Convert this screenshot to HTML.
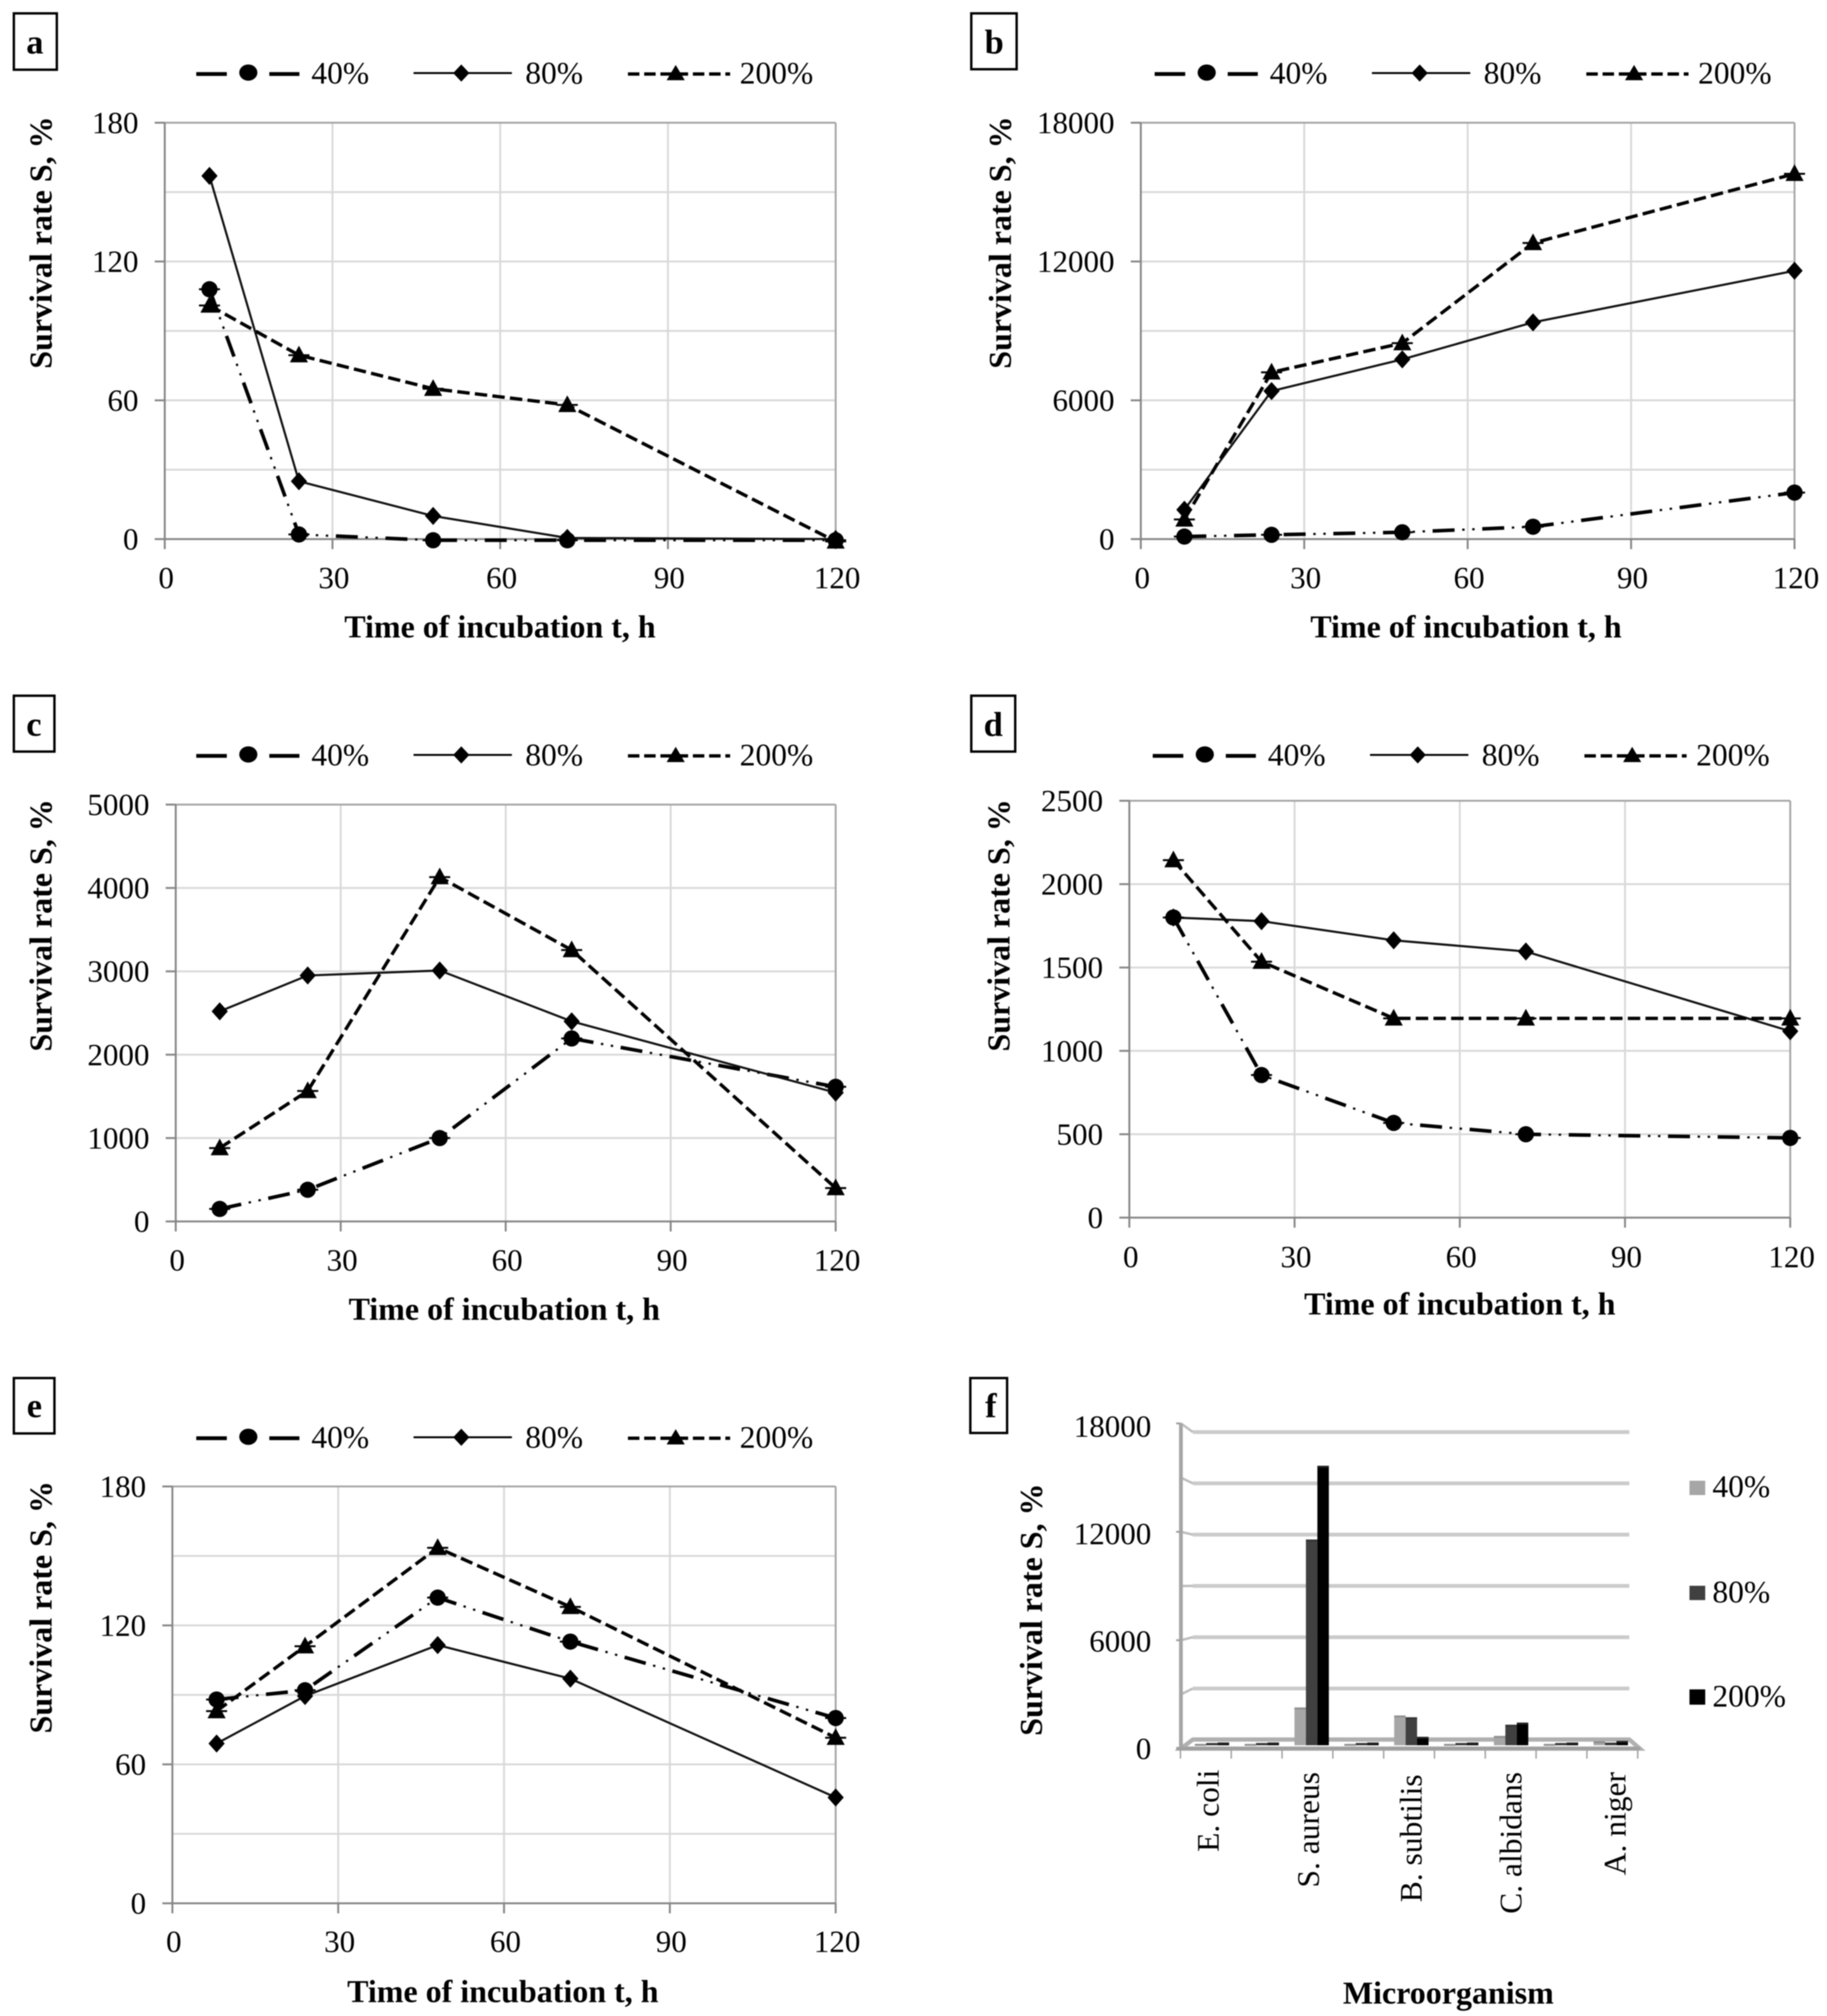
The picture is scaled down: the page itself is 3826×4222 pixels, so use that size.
<!DOCTYPE html>
<html lang="en">
<head>
<meta charset="utf-8">
<title>Survival rate charts</title>
<style>
html,body{margin:0;padding:0;background:#fff;}
svg{display:block;filter:blur(1px);}
text{font-family:"Liberation Serif",serif;fill:#000;}
.tick{font-size:65px;}
.leg{font-size:66px;}
.title{font-size:67px;font-weight:bold;}
.letter{font-size:72px;font-weight:bold;text-anchor:middle;}
.mid{text-anchor:middle;}
.cat{font-size:66px;text-anchor:end;}
.box{fill:none;stroke:#000;stroke-width:5;}
.l40{stroke:#000;stroke-width:8;fill:none;}
.l80{stroke:#000;stroke-width:4;fill:none;}
.l200{stroke:#000;stroke-width:7;fill:none;stroke-dasharray:24 10;}
</style>
</head>
<body>
<svg id="figure" xmlns="http://www.w3.org/2000/svg" width="3826" height="4222" viewBox="0 0 3826 4222">
<rect x="0" y="0" width="3826" height="4222" fill="#fff"/>

<!-- Panel a -->
<g>
  <rect class="box" x="29" y="28" width="90" height="118"/>
  <text class="letter" x="73" y="112">a</text>
  <text class="title mid" x="1047" y="1335">Time of incubation t, h</text>
  <text class="title mid" transform="translate(108,508) rotate(-90)">Survival rate S, %</text>
  <g id="legend-a">
    <g><line class="l40" x1="411" y1="155" x2="475" y2="155"/><line class="l40" x1="564" y1="155" x2="627" y2="155"/><ellipse cx="520" cy="152" rx="19" ry="17"/><text class="leg" x="652" y="175">40%</text></g>
    <g><line class="l80" x1="866" y1="153" x2="1072" y2="153"/><path d="M966 135L983 153L966 171L949 153Z"/><text class="leg" x="1100" y="175">80%</text></g>
    <g><line class="l200" x1="1315" y1="155" x2="1529" y2="155"/><path d="M1415 136L1434 168L1396 168Z"/><text class="leg" x="1549" y="175">200%</text></g>
  </g>
</g>

<!-- Panel b -->
<g>
  <rect class="box" x="2034" y="28" width="95" height="117"/>
  <text class="letter" x="2082" y="112">b</text>
  <text class="title mid" x="3070" y="1335">Time of incubation t, h</text>
  <text class="title mid" transform="translate(2117,508) rotate(-90)">Survival rate S, %</text>
  <g transform="translate(2007,0)">
    <g><line class="l40" x1="411" y1="155" x2="475" y2="155"/><line class="l40" x1="564" y1="155" x2="627" y2="155"/><ellipse cx="520" cy="152" rx="19" ry="17"/><text class="leg" x="652" y="175">40%</text></g>
    <g><line class="l80" x1="866" y1="153" x2="1072" y2="153"/><path d="M966 135L983 153L966 171L949 153Z"/><text class="leg" x="1100" y="175">80%</text></g>
    <g><line class="l200" x1="1315" y1="155" x2="1529" y2="155"/><path d="M1415 136L1434 168L1396 168Z"/><text class="leg" x="1549" y="175">200%</text></g>
  </g>
</g>

<!-- Panel c -->
<g>
  <rect class="box" x="29" y="1457" width="85" height="117"/>
  <text class="letter" x="71" y="1541">c</text>
  <text class="title mid" x="1056" y="2764">Time of incubation t, h</text>
  <text class="title mid" transform="translate(108,1938) rotate(-90)">Survival rate S, %</text>
  <g transform="translate(0,1428)">
    <g><line class="l40" x1="411" y1="155" x2="475" y2="155"/><line class="l40" x1="564" y1="155" x2="627" y2="155"/><ellipse cx="520" cy="152" rx="19" ry="17"/><text class="leg" x="652" y="175">40%</text></g>
    <g><line class="l80" x1="866" y1="153" x2="1072" y2="153"/><path d="M966 135L983 153L966 171L949 153Z"/><text class="leg" x="1100" y="175">80%</text></g>
    <g><line class="l200" x1="1315" y1="155" x2="1529" y2="155"/><path d="M1415 136L1434 168L1396 168Z"/><text class="leg" x="1549" y="175">200%</text></g>
  </g>
</g>

<!-- Panel d -->
<g>
  <rect class="box" x="2034" y="1457" width="92" height="117"/>
  <text class="letter" x="2080" y="1541">d</text>
  <text class="title mid" x="3057" y="2753">Time of incubation t, h</text>
  <text class="title mid" transform="translate(2114,1938) rotate(-90)">Survival rate S, %</text>
  <g transform="translate(2003,1428)">
    <g><line class="l40" x1="411" y1="155" x2="475" y2="155"/><line class="l40" x1="564" y1="155" x2="627" y2="155"/><ellipse cx="520" cy="152" rx="19" ry="17"/><text class="leg" x="652" y="175">40%</text></g>
    <g><line class="l80" x1="866" y1="153" x2="1072" y2="153"/><path d="M966 135L983 153L966 171L949 153Z"/><text class="leg" x="1100" y="175">80%</text></g>
    <g><line class="l200" x1="1315" y1="155" x2="1529" y2="155"/><path d="M1415 136L1434 168L1396 168Z"/><text class="leg" x="1549" y="175">200%</text></g>
  </g>
</g>

<!-- Panel e -->
<g>
  <rect class="box" x="29" y="2886" width="85" height="116"/>
  <text class="letter" x="72" y="2968">e</text>
  <text class="title mid" x="1053" y="4193">Time of incubation t, h</text>
  <text class="title mid" transform="translate(108,3366) rotate(-90)">Survival rate S, %</text>
  <g transform="translate(0,2857)">
    <g><line class="l40" x1="411" y1="155" x2="475" y2="155"/><line class="l40" x1="564" y1="155" x2="627" y2="155"/><ellipse cx="520" cy="152" rx="19" ry="17"/><text class="leg" x="652" y="175">40%</text></g>
    <g><line class="l80" x1="866" y1="153" x2="1072" y2="153"/><path d="M966 135L983 153L966 171L949 153Z"/><text class="leg" x="1100" y="175">80%</text></g>
    <g><line class="l200" x1="1315" y1="155" x2="1529" y2="155"/><path d="M1415 136L1434 168L1396 168Z"/><text class="leg" x="1549" y="175">200%</text></g>
  </g>
</g>

<!-- Panel f -->
<g>
  <rect class="box" x="2032" y="2886" width="77" height="115"/>
  <text class="letter" x="2075" y="2968">f</text>
  <text class="title mid" x="3033" y="4196">Microorganism</text>
  <text class="title mid" transform="translate(2182,3371) rotate(-90)">Survival rate S, %</text>
  <g>
    <g><rect x="3538" y="3101" width="33" height="30" fill="#a6a6a6"/><text class="leg" x="3586" y="3135">40%</text></g>
    <g><rect x="3538" y="3321" width="33" height="30" fill="#404040"/><text class="leg" x="3586" y="3356">80%</text></g>
    <g><rect x="3538" y="3538" width="33" height="32" fill="#000"/><text class="leg" x="3586" y="3574">200%</text></g>
  </g>
  <g>
    <text class="cat" transform="translate(2552,3706) rotate(-90)">E. coli</text>
    <text class="cat" transform="translate(2762,3711) rotate(-90)">S. aureus</text>
    <text class="cat" transform="translate(2977,3716) rotate(-90)">B. subtilis</text>
    <text class="cat" transform="translate(3186,3711) rotate(-90)">C. albidans</text>
    <text class="cat" transform="translate(3404,3711) rotate(-90)">A. niger</text>
  </g>
</g>
<g id="plots"></g>
</svg>

<script>
// ---- Line-chart data ----
const hours = [8, 24, 48, 72, 120];
const xTickLabels = [0, 30, 60, 90, 120];

const panelA40 = [108, 2, -0.5, -0.5, -0.5];
const panelA80 = [157, 25, 10, 0.5, 0];
const panelA200 = [101, 79.5, 65, 58, -1];
const panelAYTicks = [0, 60, 120, 180];
const panelAGrid = [30, 60, 90, 120, 150];

const panelB40 = [110, 185, 295, 535, 2010];
const panelB80 = [1270, 6400, 7770, 9370, 11600];
const panelB200 = [850, 7210, 8470, 12800, 15790];
const panelBYTicks = [0, 6000, 12000, 18000];
const panelBGrid = [3000, 6000, 9000, 12000, 15000];

const panelC40 = [150, 380, 1000, 2195, 1615];
const panelC80 = [2520, 2950, 3010, 2400, 1545];
const panelC200 = [880, 1565, 4130, 3255, 400];
const panelCYTicks = [0, 1000, 2000, 3000, 4000, 5000];
const panelCGrid = [1000, 2000, 3000, 4000];

const panelD40 = [1800, 855, 568, 500, 478];
const panelD80 = [1800, 1778, 1663, 1596, 1118];
const panelD200 = [2144, 1535, 1195, 1195, 1195];
const panelDYTicks = [0, 500, 1000, 1500, 2000, 2500];
const panelDGrid = [500, 1000, 1500, 2000];

const panelE40 = [88, 92, 132, 113, 80];
const panelE80 = [69, 89.5, 111.5, 97, 45.7];
const panelE200 = [83, 111, 153.5, 128, 71.5];
const panelEYTicks = [0, 60, 120, 180];
const panelEGrid = [30, 60, 90, 120, 150];

// ---- Bar-chart data (panel f) ----
const organisms = ["E. coli", "", "S. aureus", "", "B. subtilis", "", "C. albidans", "", "A. niger"];
const bars40 = [50, 50, 2100, 50, 1650, 50, 500, 50, 200];
const bars80 = [100, 100, 11550, 100, 1550, 100, 1130, 100, 120];
const bars200 = [130, 130, 15700, 130, 450, 130, 1250, 130, 220];
const barYTicks = [0, 6000, 12000, 18000];
const barGrid = [3000, 6000, 9000, 12000, 15000, 18000];

// ---- Layout ----
const plots = document.getElementById('plots');
const NS = 'http://www.w3.org/2000/svg';

function make(tag, parent, name) {
  const el = document.createElementNS(NS, tag);
  
  
  parent.appendChild(el);
  return el;
}
function seg(parent, name, x1, y1, x2, y2, color, width) {
  const el = make('line', parent, name);
  el.setAttribute('x1', x1);
  el.setAttribute('y1', y1);
  el.setAttribute('x2', x2);
  el.setAttribute('y2', y2);
  el.setAttribute('stroke', color);
  el.setAttribute('stroke-width', width);
  return el;
}
function label(parent, name, x, y, str, anchor) {
  const el = make('text', parent, name);
  el.setAttribute('class', 'tick');
  el.setAttribute('x', x);
  el.setAttribute('y', y);
  el.setAttribute('text-anchor', anchor);
  el.textContent = str;
  return el;
}

function linePanel(id, box, yMax, yTicks, grid, s40, s80, s200) {
  const g = make('g', plots, 'panel-' + id + '-plot');
  const xs = v => box.left + (box.right - box.left) * v / 120;
  const ys = v => box.bottom - (box.bottom - box.top) * v / yMax;

  grid.forEach(v => seg(g, 'h-gridline', box.left, ys(v), box.right, ys(v), '#d9d9d9', 4));
  xTickLabels.slice(1, -1).forEach(v => seg(g, 'v-gridline', xs(v), box.top, xs(v), box.bottom, '#d9d9d9', 4));
  seg(g, 'plot-top-border', box.left, box.top, box.right, box.top, '#a6a6a6', 4);
  seg(g, 'plot-right-border', box.right, box.top, box.right, box.bottom, '#a6a6a6', 4);
  seg(g, 'y-axis', box.left, box.top, box.left, box.bottom, '#868686', 4);
  seg(g, 'x-axis', box.left, box.bottom, box.right, box.bottom, '#868686', 4);

  yTicks.forEach(v => {
    seg(g, 'y-tick', box.left - 21, ys(v), box.left, ys(v), '#868686', 4);
    label(g, 'y-tick-label', box.left - 55, ys(v) + 22, String(v), 'end');
  });
  xTickLabels.forEach(v => {
    seg(g, 'x-tick', xs(v), box.bottom, xs(v), box.bottom + 21, '#868686', 4);
    label(g, 'x-tick-label', xs(v) + 3, box.tickY, String(v), 'middle');
  });

  const pts = vals => vals.map((v, i) => xs(hours[i]) + ',' + ys(v)).join(' ');

  const p40 = make('polyline', g, 'series-40-dashes');
  p40.setAttribute('points', pts(s40));
  p40.setAttribute('fill', 'none');
  p40.setAttribute('stroke', '#000');
  p40.setAttribute('stroke-width', '7.5');
  p40.setAttribute('stroke-dasharray', '46 58');

  const p40dots = make('polyline', g, 'series-40-dots');
  p40dots.setAttribute('points', pts(s40));
  p40dots.setAttribute('fill', 'none');
  p40dots.setAttribute('stroke', '#000');
  p40dots.setAttribute('stroke-width', '4.5');
  p40dots.setAttribute('stroke-dasharray', '0 62 5 16 5 16');

  const p80 = make('polyline', g, 'series-80-line');
  p80.setAttribute('points', pts(s80));
  p80.setAttribute('fill', 'none');
  p80.setAttribute('stroke', '#111');
  p80.setAttribute('stroke-width', '4.5');

  const p200 = make('polyline', g, 'series-200-line');
  p200.setAttribute('points', pts(s200));
  p200.setAttribute('fill', 'none');
  p200.setAttribute('stroke', '#000');
  p200.setAttribute('stroke-width', '7');
  p200.setAttribute('stroke-dasharray', '26 11');

  s40.forEach((v, i) => {
    const c = make('circle', g, 'series-40-point');
    c.setAttribute('cx', xs(hours[i]));
    c.setAttribute('cy', ys(v));
    c.setAttribute('r', 17);
    seg(g, 'series-40-error-cap', xs(hours[i]) - 22, ys(v), xs(hours[i]) + 22, ys(v), '#000', 4);
  });
  s80.forEach((v, i) => {
    const d = make('path', g, 'series-80-point');
    const x = xs(hours[i]), y = ys(v);
    d.setAttribute('d', `M${x} ${y - 19}L${x + 17} ${y}L${x} ${y + 19}L${x - 17} ${y}Z`);
  });
  s200.forEach((v, i) => {
    const t = make('path', g, 'series-200-point');
    const x = xs(hours[i]), y = ys(v);
    t.setAttribute('d', `M${x} ${y - 20}L${x + 19} ${y + 15}L${x - 19} ${y + 15}Z`);
    seg(g, 'series-200-error-cap', x - 22, y, x + 22, y, '#000', 4);
  });
}

linePanel('a', {left: 345, right: 1750, top: 257, bottom: 1129, tickY: 1232}, 180, panelAYTicks, panelAGrid, panelA40, panelA80, panelA200);
linePanel('b', {left: 2389, right: 3758, top: 257, bottom: 1129, tickY: 1232}, 18000, panelBYTicks, panelBGrid, panelB40, panelB80, panelB200);
linePanel('c', {left: 368, right: 1750, top: 1685, bottom: 2558, tickY: 2661}, 5000, panelCYTicks, panelCGrid, panelC40, panelC80, panelC200);
linePanel('d', {left: 2365, right: 3749, top: 1677, bottom: 2550, tickY: 2654}, 2500, panelDYTicks, panelDGrid, panelD40, panelD80, panelD200);
linePanel('e', {left: 361, right: 1750, top: 3113, bottom: 3986, tickY: 4088}, 180, panelEYTicks, panelEGrid, panelE40, panelE80, panelE200);

// ---- Panel f: pseudo-3D clustered columns ----
(function () {
  const g = make('g', plots, 'panel-f-plot');
  const axisX = 2473, backX = 2498, endX = 3412, frontEnd = 3434;
  const axisBottom = 3662, barBase = 3655;
  const wallY = v => 3643.5 - v * 107.4 / 3000;
  const axisY = v => axisBottom - v * 681 / 18000;
  const labelY = v => axisBottom - v * 675 / 18000;
  const barY = v => barBase - v * 670 / 18000;
  const catX = i => 2502 + 104.4 * i;
  const barW = 24;

  barGrid.forEach(v => {
    seg(g, 'wall-gridline', backX, wallY(v), endX, wallY(v), '#cbcbcb', 8);
    seg(g, 'wall-gridline-stub', axisX, axisY(v), backX, wallY(v), '#bdbdbd', 5);
  });

  const floor = make('path', g, 'chart-floor');
  floor.setAttribute('d', `M${axisX} ${axisBottom}L${backX} 3643L${endX} 3643L${frontEnd} ${axisBottom}Z`);
  floor.setAttribute('fill', '#fff');
  floor.setAttribute('stroke', '#b0b0b0');
  floor.setAttribute('stroke-width', '9');

  seg(g, 'y-axis', axisX, 2981, axisX, axisBottom, '#a6a6a6', 8);
  seg(g, 'x-axis', axisX - 10, axisBottom, frontEnd, axisBottom, '#a0a0a0', 7);

  barYTicks.forEach(v => {
    seg(g, 'y-tick', axisX - 10, axisY(v), axisX, axisY(v), '#a0a0a0', 4);
    label(g, 'y-tick-label', 2411, labelY(v) + 22, String(v), 'end');
  });
  organisms.forEach((name, i) => {
    seg(g, 'x-tick', 2472 + 106.4 * i, axisBottom, 2472 + 106.4 * i, axisBottom + 21, '#a0a0a0', 3);
  });
  seg(g, 'x-tick', 2472 + 106.4 * organisms.length, axisBottom, 2472 + 106.4 * organisms.length, axisBottom + 21, '#a0a0a0', 3);

  function drawBars(values, offset, color, capColor, name) {
    values.forEach((v, i) => {
      const r = make('rect', g, name);
      r.setAttribute('x', catX(i) + offset * barW);
      r.setAttribute('y', barY(v));
      r.setAttribute('width', barW);
      r.setAttribute('height', barBase - barY(v));
      r.setAttribute('fill', color);
      const c = make('rect', g, name + '-cap');
      c.setAttribute('x', catX(i) + offset * barW);
      c.setAttribute('y', barY(v) - 1);
      c.setAttribute('width', barW);
      c.setAttribute('height', 4);
      c.setAttribute('fill', capColor);
    });
  }
  drawBars(bars40, 0, '#a6a6a6', '#8f8f8f', 'bar-40');
  drawBars(bars80, 1, '#404040', '#333', 'bar-80');
  drawBars(bars200, 2, '#000', '#222', 'bar-200');
})();
</script>
</body>
</html>
